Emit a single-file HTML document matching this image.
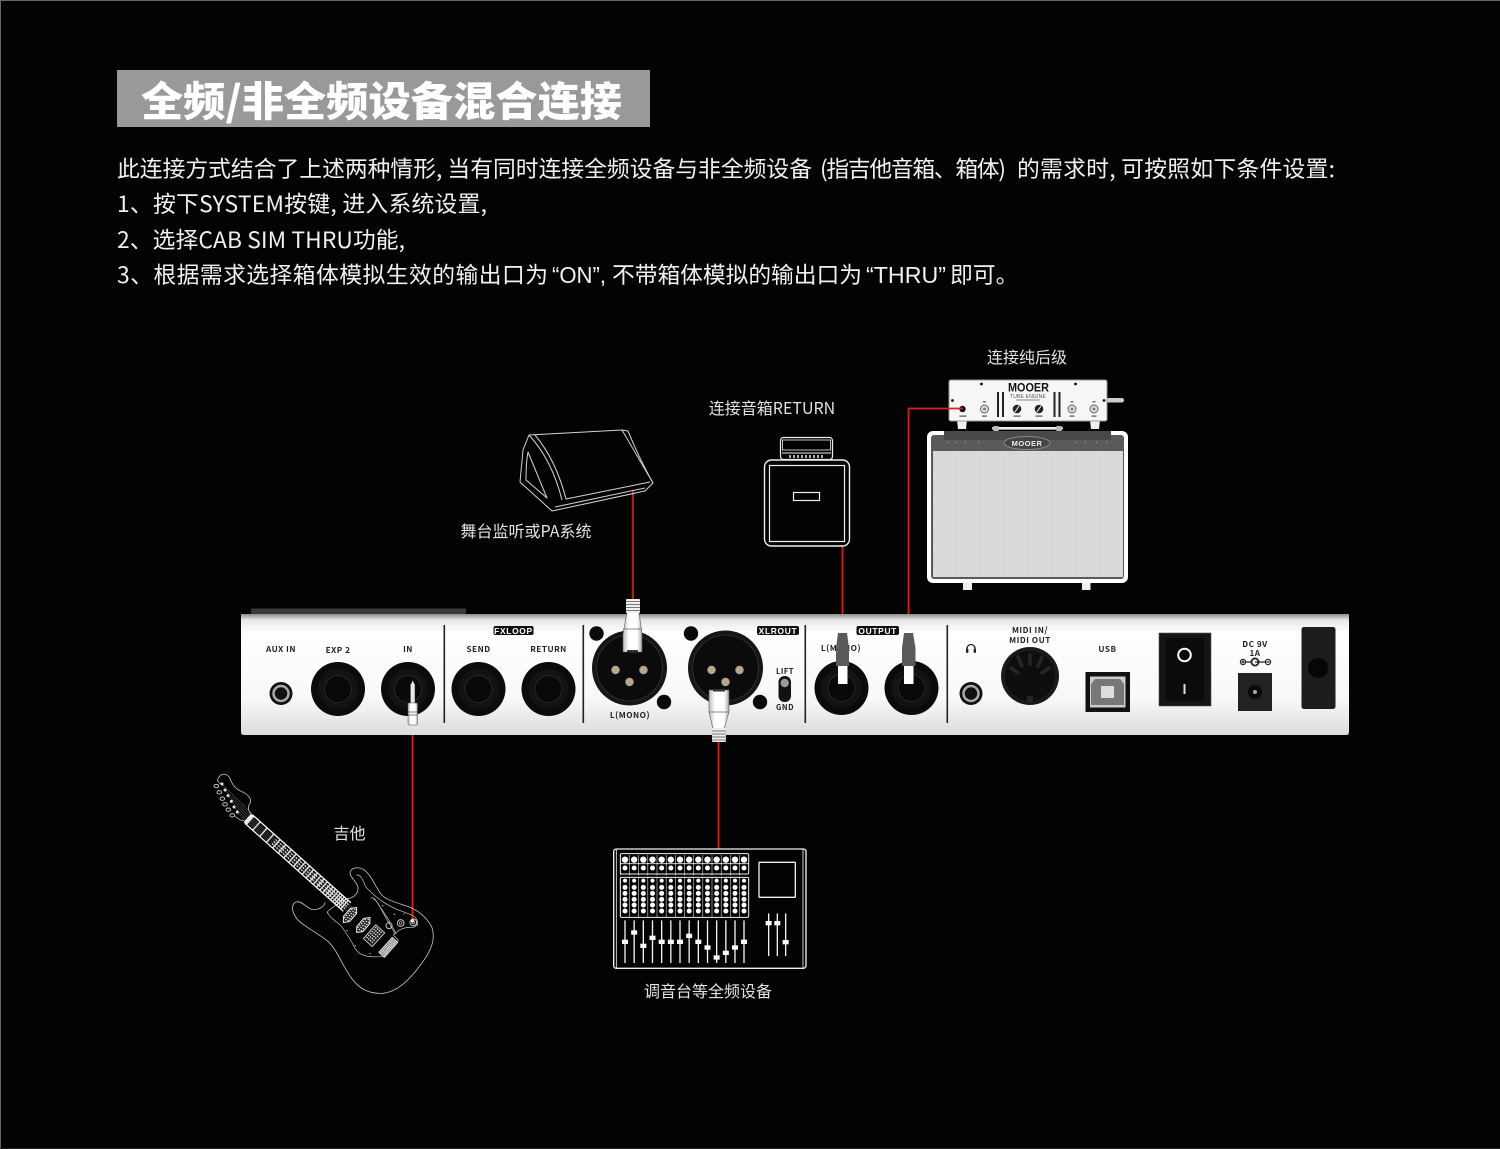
<!DOCTYPE html>
<html lang="zh">
<head>
<meta charset="utf-8">
<title>全频/非全频设备混合连接</title>
<style>
html,body{margin:0;padding:0;background:#040304;width:1500px;height:1149px;overflow:hidden}
svg{display:block}
text{font-family:"Liberation Sans","Noto Sans CJK SC",sans-serif}
.body{font-size:22.8px;fill:#f0f0f0;font-weight:400;font-family:"Noto Sans CJK SC","Liberation Sans",sans-serif}
.lat{font-family:"Liberation Sans","Noto Sans CJK SC",sans-serif}
.cap{font-size:16px;fill:#e2e2e2;text-anchor:middle;font-family:"Noto Sans CJK SC","Liberation Sans",sans-serif;font-weight:400}
.lb{font-size:8.2px;font-weight:bold;fill:#222;text-anchor:middle;letter-spacing:.5px;font-family:"Noto Sans CJK SC","Liberation Sans",sans-serif}
.tag{font-size:8.4px;font-weight:bold;fill:#fff;text-anchor:middle;letter-spacing:.7px}
.l{fill:none;stroke:#d4d4d4;stroke-width:1}
.r{stroke:#e01c1c;stroke-width:1.7;fill:none}
</style>
</head>
<body>
<svg width="1500" height="1149" viewBox="0 0 1500 1149" xmlns="http://www.w3.org/2000/svg">
<defs>
<linearGradient id="panel" x1="0" y1="0" x2="0" y2="1">
<stop offset="0" stop-color="#8c8c8c"/><stop offset=".05" stop-color="#e8e8e8"/><stop offset=".16" stop-color="#fff"/><stop offset=".7" stop-color="#f8f8f8"/><stop offset="1" stop-color="#dcdcdc"/>
</linearGradient>
<linearGradient id="plug" x1="0" y1="0" x2="1" y2="0">
<stop offset="0" stop-color="#bbb"/><stop offset=".3" stop-color="#fff"/><stop offset=".75" stop-color="#fff"/><stop offset="1" stop-color="#aaa"/>
</linearGradient>
<g id="jack">
<circle r="27" fill="#0b0b0b"/>
<circle r="20" fill="#131313"/>
<circle r="13.5" fill="#090909" stroke="#262626" stroke-width="1"/>
</g>
<g id="mini">
<circle r="11.5" fill="#111"/>
<circle r="7.5" fill="none" stroke="#aaa" stroke-width="2.5"/>
<circle r="5" fill="#111"/>
</g>
<g id="xlr">
<circle r="37.5" fill="#151515"/>
<circle r="33" fill="#0b0b0b" stroke="#2e2e2e" stroke-width="1"/>
<circle cx="-14" cy="2" r="4.2" fill="#b5a68c"/>
<circle cx="14" cy="2" r="4.2" fill="#b5a68c"/>
<circle cx="0" cy="14" r="4.2" fill="#b5a68c"/>
</g>
<g id="col">
<circle cx="0" cy="0" r="9.5" fill="#fff"/>
<circle cx="0" cy="25" r="7.5" fill="#fff"/>
<path d="M-14,-14V48" stroke="#fff" stroke-width="1.5"/>
</g>
<g id="col2">
<circle cx="0" cy="0" r="6" fill="#fff"/><circle cx="0" cy="20" r="7.5" fill="#fff"/><circle cx="0" cy="38" r="7.5" fill="#fff"/><circle cx="0" cy="56" r="7.5" fill="#fff"/><circle cx="0" cy="73" r="7.5" fill="#fff"/><circle cx="0" cy="91" r="7.5" fill="#fff"/>
<path d="M-14,-10V110" stroke="#fff" stroke-width="1.5"/>
</g>
<g id="tog">
<circle r="4" fill="#ddd" stroke="#666" stroke-width="1"/><circle r="1.4" fill="#777"/>
<rect x="-1.5" y="-8" width="3" height="1.5" fill="#777"/>
<rect x="-2.5" y="6.5" width="5" height="1.2" fill="#555"/>
</g>
<g id="knob">
<circle r="4.3" fill="#222"/><path d="M-2,3L2,-3" stroke="#fff" stroke-width="1"/>
<rect x="-3.5" y="6.5" width="7" height="1.2" fill="#555"/>
</g>
<pattern id="grille" width="3" height="3" patternUnits="userSpaceOnUse">
<rect width="3" height="3" fill="#dcdcdc"/><path d="M0,0H3M0,0V3" stroke="#c8c8c8" stroke-width=".6"/>
</pattern>
</defs>

<rect width="1500" height="1149" fill="#040304"/>
<rect x="0" y="0" width="1500" height="1" fill="#666"/>
<rect x="0" y="0" width="1" height="1149" fill="#666"/>
<rect x="0" y="1148" width="1500" height="1" fill="#222"/>

<!-- heading -->
<rect x="117" y="70" width="533" height="57" fill="#999"/>
<text x="141" y="116" font-size="41" font-weight="900" fill="#fff" textLength="481" lengthAdjust="spacingAndGlyphs" style="font-family:'Noto Sans CJK SC','Liberation Sans',sans-serif">全频/非全频设备混合连接</text>

<text class="body" x="117" y="177" textLength="695" lengthAdjust="spacing">此连接方式结合了上述两种情形, 当有同时连接全频设备与非全频设备</text>
<text class="body" x="820" y="177" textLength="186" lengthAdjust="spacing">(指吉他音箱、箱体)</text>
<text class="body" x="1017" y="177" textLength="318" lengthAdjust="spacing">的需求时, 可按照如下条件设置:</text>
<text class="body" x="117" y="212" textLength="370" lengthAdjust="spacing">1、按下SYSTEM按键, 进入系统设置,</text>
<text class="body" x="117" y="248" textLength="288" lengthAdjust="spacing">2、选择CAB SIM THRU功能,</text>
<text class="body" x="117" y="283" textLength="431" lengthAdjust="spacing">3、根据需求选择箱体模拟生效的输出口为</text>
<text class="body lat" x="552" y="283" textLength="54" lengthAdjust="spacingAndGlyphs">“ON”,</text>
<text class="body" x="612" y="283" textLength="250" lengthAdjust="spacing">不带箱体模拟的输出口为</text>
<text class="body lat" x="866" y="283" textLength="80" lengthAdjust="spacingAndGlyphs">“THRU”</text>
<text class="body" x="950" y="283">即可。</text>

<!-- captions -->
<text class="cap" x="1027" y="363">连接纯后级</text>
<text class="cap" x="772" y="414">连接音箱RETURN</text>
<text class="cap" x="526" y="537">舞台监听或PA系统</text>
<text class="cap" x="349.5" y="839">吉他</text>
<text class="cap" x="708" y="997">调音台等全频设备</text>

<!-- red cables -->
<path class="r" d="M633,490V600"/>
<path class="r" d="M842.5,546V634"/>
<path class="r" d="M718.5,742V849"/>
<path class="r" d="M412.5,725V921"/>

<!-- stage monitor -->
<g class="l" stroke-linejoin="round">
<path d="M529,435L622,430L653,483L645,491L552,511L520,482L523,450Z"/>
<path d="M529,435Q552,460 562,500"/>
<path d="M535,435Q556,460 566,499L650,482"/>
<path d="M622,430L628,431Q640,460 653,483"/>
<path d="M555,507L645,488"/>
<path d="M528,452L547,498L526,480Q526,462 528,452Z"/>
</g>

<!-- small cab with head -->
<g fill="none" stroke="#eee">
<rect x="764.5" y="460" width="85" height="86" rx="7" stroke-width="1.4"/>
<rect x="769.5" y="465.5" width="75" height="76" stroke-width="1.2"/>
<rect x="793.5" y="492.5" width="26" height="8" stroke-width="1.2"/>
<rect x="780.5" y="437.5" width="52" height="22" rx="3" stroke-width="1.2"/>
<rect x="782.5" y="440" width="48" height="10" stroke-width=".8"/>
<path d="M782,453H831" stroke-width="1"/>
<path d="M789,456.5H825" stroke-width="3" stroke-dasharray="2 2" stroke="#aaa"/>
</g>

<!-- amp head + combo -->
<rect x="927" y="431" width="201" height="152" rx="6" fill="#fff"/>
<rect x="931" y="435" width="193" height="144" rx="3" fill="#5a5a5a"/>
<rect x="944" y="431" width="167" height="9" fill="#484848"/>
<rect x="933" y="451" width="190" height="126" fill="url(#grille)"/>
<ellipse cx="1027" cy="443" rx="23" ry="6.5" fill="#444" stroke="#888" stroke-width="1"/>
<text x="1027" y="446" font-size="7.5" font-weight="bold" fill="#eee" text-anchor="middle" letter-spacing=".5">MOOER</text>
<path d="M948,442.5h1M956,442.5h1M965,442.5h1M978,442.5h1M1075,442.5h1M1085,442.5h1M1096,442.5h1M1106,442.5h1" stroke="#999" stroke-width="1.5"/>
<rect x="963" y="583" width="9" height="7" fill="#eee"/>
<rect x="1082" y="583" width="8.5" height="7" fill="#eee"/>
<rect x="992" y="427" width="71" height="2.6" rx="1.3" fill="#eee"/>
<rect x="993" y="426" width="6" height="5" rx="1.5" fill="#bbb"/>
<rect x="1056" y="426" width="6" height="5" rx="1.5" fill="#bbb"/>

<path d="M957,420H967L966,429H958Z" fill="#eee"/>
<path d="M1090,420H1100L1099,429H1091Z" fill="#eee"/>
<rect x="1106" y="398" width="18" height="4.5" rx="2.2" fill="#ccc"/>
<rect x="949" y="380" width="158" height="41" rx="2" fill="#f6f6f6" stroke="#999" stroke-width="1"/>
<g fill="#111"><circle cx="981.5" cy="384" r="1.4"/><circle cx="1075.5" cy="384" r="1.4"/><circle cx="952.5" cy="400.5" r="1.4"/><circle cx="1104" cy="400.5" r="1.4"/></g>
<text x="1008" y="391.5" font-size="11.5" font-weight="bold" fill="#111" textLength="41" lengthAdjust="spacingAndGlyphs">MOOER</text>
<text x="1028" y="398" font-size="5" fill="#555" text-anchor="middle" letter-spacing=".2">TUBE ENGINE</text>
<rect x="1016" y="399.5" width="24" height="1" fill="#888"/>
<g fill="#222"><rect x="997" y="392" width="2" height="25"/><rect x="1002" y="392" width="2" height="25"/><rect x="1053.5" y="392" width="2" height="25"/><rect x="1058.5" y="392" width="2" height="25"/></g>
<circle cx="962.5" cy="409" r="3.2" fill="#111"/>
<rect x="959.5" y="415.5" width="7" height="1.2" fill="#555"/>
<use href="#tog" x="984.5" y="409"/><use href="#tog" x="1072" y="409"/><use href="#tog" x="1094" y="409"/>
<use href="#knob" x="1017" y="409"/><use href="#knob" x="1039" y="409"/>

<!-- cable into amp input, drawn over the head -->
<path class="r" d="M963,408.500H908.500V634"/>

<!-- pedal rear panel -->
<rect x="251" y="608.5" width="215" height="6" fill="#3a3a3a"/>
<path d="M241,614H1349V732Q1349,735 1346,735H244Q241,735 241,732Z" fill="url(#panel)"/>

<g fill="#222">
<rect x="443.5" y="625" width="1.6" height="98"/>
<rect x="582.5" y="625" width="1.6" height="98"/>
<rect x="804.5" y="625" width="1.6" height="98"/>
<rect x="946.5" y="625" width="1.6" height="98"/>
</g>

<text class="lb" x="281" y="652">AUX IN</text>
<text class="lb" x="338" y="653">EXP 2</text>
<text class="lb" x="408" y="652">IN</text>
<text class="lb" x="478.5" y="652">SEND</text>
<text class="lb" x="548.5" y="652">RETURN</text>
<text class="lb" x="630" y="718">L(MONO)</text>
<text class="lb" x="785" y="674" style="font-size:7.6px">LIFT</text>
<text class="lb" x="785" y="710" style="font-size:7.6px">GND</text>
<text class="lb" x="841" y="651">L(MONO)</text>
<text class="lb" x="1030" y="633">MIDI IN/</text>
<text class="lb" x="1030" y="643">MIDI OUT</text>
<text class="lb" x="1107.5" y="652">USB</text>
<text class="lb" x="1255" y="647">DC 9V</text>
<text class="lb" x="1255" y="656">1A</text>

<rect x="493.5" y="626" width="40" height="9" rx="2" fill="#111"/><text class="tag" x="513.5" y="634">FXLOOP</text>
<rect x="757" y="626" width="42" height="9" rx="2" fill="#111"/><text class="tag" x="778" y="634">XLROUT</text>
<rect x="856.5" y="626" width="42.5" height="9" rx="2" fill="#111"/><text class="tag" x="877.7" y="634">OUTPUT</text>

<use href="#mini" x="281" y="693.5"/>
<use href="#jack" x="338" y="689"/>
<use href="#jack" x="408" y="689"/>
<use href="#jack" x="478.5" y="689"/>
<use href="#jack" x="548.5" y="689"/>
<use href="#jack" x="841.5" y="688"/>
<use href="#jack" x="911.5" y="688"/>
<use href="#mini" x="971" y="693.5"/>

<!-- XLR -->
<g fill="#0a0a0a"><circle cx="596.5" cy="633.5" r="7.2"/><circle cx="664" cy="702" r="7.2"/><circle cx="691" cy="633.5" r="7.2"/><circle cx="760" cy="702" r="7.2"/></g>
<use href="#xlr" x="629.5" y="668"/>
<use href="#xlr" x="725.5" y="668"/>

<!-- lift switch -->
<rect x="778.5" y="676" width="12.5" height="26" rx="6" fill="#111"/>
<circle cx="784.7" cy="683" r="4.2" fill="#999"/>

<!-- headphone icon -->
<path d="M967,652V648.5A4,4 0 0 1 975,648.5V652" fill="none" stroke="#222" stroke-width="1.3"/>
<rect x="966" y="648.5" width="2.4" height="4.5" rx="1" fill="#222"/><rect x="973.6" y="648.5" width="2.4" height="4.5" rx="1" fill="#222"/>

<!-- MIDI -->
<circle cx="1030" cy="676" r="29" fill="#1a1a1a"/>
<circle cx="1030" cy="676" r="25" fill="#0e0e0e"/>
<g stroke="#262626" stroke-width="3.5" stroke-linecap="round">
<path d="M1030,655V664"/><path d="M1018,657L1022,666"/><path d="M1042,657L1038,666"/><path d="M1011,668L1018,673"/><path d="M1049,668L1042,673"/>
</g>
<rect x="1027" y="696" width="6" height="6" fill="#262626"/>

<!-- USB -->
<rect x="1085.5" y="672" width="44.5" height="40" fill="#111"/>
<rect x="1090" y="676.5" width="35.5" height="31" fill="#ccc"/>
<path d="M1095,679H1120L1124,684V705H1091V684Z" fill="#777"/>
<rect x="1101" y="686" width="13" height="12" fill="#ddd"/>

<!-- rocker -->
<rect x="1159" y="633" width="52" height="73" fill="#151515" stroke="#555" stroke-width=".6"/>
<rect x="1166" y="638" width="38" height="63" fill="#0b0b0b"/>
<circle cx="1184.5" cy="655" r="6.3" fill="none" stroke="#fff" stroke-width="2"/>
<rect x="1183.5" y="684" width="2" height="10" fill="#ddd"/>

<!-- DC -->
<g fill="none" stroke="#222" stroke-width="1.2">
<circle cx="1243" cy="662" r="2.6"/><circle cx="1255" cy="662" r="3.6" stroke-width="1.8"/><circle cx="1268" cy="662" r="2.6"/>
<path d="M1246,662H1251M1255,662H1265M1241.500,662H1244.500M1243,660.500V663.500M1266.500,662H1269.500"/>
</g>
<rect x="1238" y="673" width="34" height="38" fill="#222"/>
<circle cx="1255" cy="692" r="7" fill="#0a0a0a"/>
<circle cx="1255" cy="692" r="2" fill="#aaa"/>

<!-- pad -->
<rect x="1301.5" y="627" width="34" height="82" rx="2.5" fill="#1d1d1d"/>
<circle cx="1318" cy="668" r="10" fill="#060606"/>

<!-- plugs -->
<!-- top XLR -->
<path d="M627,612L623,634V652H642V634L639,612Z" fill="url(#plug)" stroke="#555" stroke-width=".6"/>
<rect x="626" y="599" width="14" height="14" rx="1" fill="#eee"/>
<path d="M626,601.500H640M626,604.500H640M626,607.500H640M626,610.500H640" stroke="#777" stroke-width="1"/>
<path d="M623,629H642" stroke="#666" stroke-width=".8"/>
<rect x="627" y="650" width="11" height="2.5" fill="#333"/>
<!-- lower XLR -->
<path d="M709,690V712L713,729H724L729,712V690Z" fill="url(#plug)" stroke="#555" stroke-width=".6"/>
<rect x="712" y="728" width="14" height="14" rx="1" fill="#eee"/>
<path d="M712,731H726M712,734H726M712,737H726M712,740H726" stroke="#777" stroke-width="1"/>
<path d="M709,712H729" stroke="#666" stroke-width=".8"/>
<rect x="713" y="689" width="12" height="2.5" fill="#333"/>
<!-- mini jack plug -->
<rect x="410.500" y="684" width="4.400" height="19" fill="#e8e8e8" stroke="#555" stroke-width=".4"/>
<path d="M412.700,680.500L414.500,684.500H411Z" fill="#eee"/>
<rect x="408" y="703" width="9.500" height="22" rx="1" fill="url(#plug)" stroke="#555" stroke-width=".5"/>
<path d="M408,712H417.500M408,715H417.500" stroke="#555" stroke-width=".7"/>
<!-- output plugs -->
<g>
<path d="M838,633H847L849,648V666H836V648Z" fill="#5a5a5a"/>
<rect x="838" y="666" width="9.500" height="18" fill="#fff"/>
<path d="M904,633H913L915.500,648V666H902V648Z" fill="#5a5a5a"/>
<rect x="904" y="666" width="9.500" height="18" fill="#fff"/>
</g>

<!-- guitar -->
<g transform="translate(200 760) scale(.33333)" fill="none" stroke="#c8c8c8" stroke-width="2.4" stroke-linejoin="round" stroke-linecap="round">
<!-- body -->
<path d="M375,428 C372,440 355,452 335,448 C318,442 308,425 292,425 C277,428 272,445 285,468 C300,495 345,512 385,545 C415,575 425,615 455,655 C480,690 515,702 550,700 C590,695 625,665 665,610 C695,570 708,535 695,500 C675,465 650,450 625,440 C590,428 560,420 545,405 C525,380 515,345 490,328 C472,318 452,325 450,338 C449,350 465,360 473,378 C478,398 465,412 442,417"/>
<!-- pickguard -->
<path d="M470,345 C485,345 488,360 497,380 C510,395 540,425 590,448 L635,465 C655,475 660,495 640,502 C610,500 595,510 580,525 L595,540 L560,585 L540,590 C510,592 480,590 465,565 C455,545 440,520 425,500 C405,480 385,470 382,455 L420,425 L445,415" stroke-width="2"/>
<path d="M512,415 C522,405 532,430 548,452 C560,470 578,495 588,522" stroke-width="2"/>
<path d="M520,418 C530,418 545,450 560,478 C572,498 580,510 583,520" stroke-width="2"/>
<!-- controls -->
<circle cx="567" cy="497" r="9" stroke-width="3"/><circle cx="602" cy="489" r="10" stroke-width="3"/><circle cx="602" cy="489" r="4" stroke-width="2"/><circle cx="640" cy="487" r="10" stroke-width="3"/><circle cx="640" cy="487" r="4" stroke-width="2"/>
<!-- neck -->
<g transform="translate(147 178) rotate(41.8)">
<path d="M0,-17H393M0,17H393" stroke="#f4f4f4" stroke-width="4"/>
<path d="M0,-17V17" stroke="#f4f4f4" stroke-width="13" stroke-linecap="butt"/>
<path d="M30,-17V17M58,-17V17M85,-17V17M110,-17V17M133,-17V17M155,-17V17M175,-17V17M194,-17V17M212,-17V17M229,-17V17M245,-17V17M260,-17V17M274,-17V17M287,-17V17M300,-17V17M312,-17V17M323,-17V17M333,-17V17M343,-17V17M352,-17V17M360,-17V17M368,-17V17M376,-17V17M384,-17V17" stroke="#f4f4f4" stroke-width="4" stroke-linecap="butt"/>
<path d="M100,-8H393M100,0H393M100,8H393" stroke="#f4f4f4" stroke-width="4" stroke-dasharray="5 4" stroke-linecap="butt"/>
<path d="M0,-10H420M0,-6H420M0,-2H420M0,2H420M0,6H420M0,10H420" stroke="#999" stroke-width="1"/>
</g>
<!-- pickups -->
<g transform="translate(450 465) rotate(41.8)">
<path d="M0,-30L12,-16V16L0,30L-12,16V-16Z" fill="#222" stroke="#eee" stroke-width="3"/>
<path d="M-7,-18V18M0,-24V24M7,-18V18" stroke="#eee" stroke-width="4" stroke-dasharray="4 4" stroke-linecap="butt"/>
</g>
<g transform="translate(490 495) rotate(41.800)">
<path d="M0,-30L12,-16V16L0,30L-12,16V-16Z" fill="#222" stroke="#eee" stroke-width="3"/>
<path d="M-7,-18V18M0,-24V24M7,-18V18" stroke="#eee" stroke-width="4" stroke-dasharray="4 4" stroke-linecap="butt"/>
</g>
<g transform="translate(522 527) rotate(41.800)">
<rect x="-18" y="-28" width="36" height="56" fill="#222" stroke="#ddd" stroke-width="2.500"/>
<path d="M-12,-24V24M-5,-24V24M2,-24V24M9,-24V24" stroke="#eee" stroke-width="4" stroke-dasharray="4 4" stroke-linecap="butt"/>
</g>
<!-- bridge -->
<g transform="translate(565 562) rotate(41.800)">
<rect x="-11" y="-30" width="22" height="60" fill="#888" stroke="#e4e4e4" stroke-width="3"/>
<path d="M-5,-26V26M1,-26V26M6,-26V26" stroke="#f4f4f4" stroke-width="3.500" stroke-dasharray="3 2" stroke-linecap="butt"/>
</g>
<g fill="#ccc" stroke="none"><circle cx="612" cy="462" r="2"/><circle cx="583" cy="463" r="2"/><circle cx="548" cy="437" r="2"/><circle cx="441" cy="512" r="2"/><circle cx="466" cy="557" r="2"/><circle cx="510" cy="581" r="2"/><circle cx="383" cy="459" r="2"/><circle cx="652" cy="494" r="2"/></g>
<!-- headstock -->
<path d="M52,62 C58,40 78,35 90,55 C98,78 108,88 132,98 C150,108 158,122 147,135 C142,148 148,155 155,165" stroke-width="2.400"/>
<path d="M52,62L62,72M132,182C120,182 112,175 107,170" stroke-width="2.200"/>
<path d="M66,72L155,160M75,90L150,164M84,107L146,168M94,124L142,172M102,141L138,176M112,156L134,180" stroke="#aaa" stroke-width="1.200"/>
<g stroke-width="3">
<ellipse cx="49" cy="78" rx="7" ry="5"/><ellipse cx="58" cy="97" rx="7" ry="5"/><ellipse cx="67" cy="116" rx="7" ry="5"/><ellipse cx="75" cy="133" rx="7" ry="5"/><ellipse cx="85" cy="149" rx="7" ry="5"/><ellipse cx="97" cy="166" rx="7" ry="5"/>
</g>
<g fill="#e4e4e4" stroke="none"><circle cx="66" cy="72" r="4.500"/><circle cx="75" cy="90" r="4.500"/><circle cx="84" cy="107" r="4.500"/><circle cx="94" cy="124" r="4.500"/><circle cx="102" cy="141" r="4.500"/><circle cx="112" cy="156" r="4.500"/></g>
</g>
<circle cx="412.500" cy="921" r="1.600" fill="#eee"/>

<!-- mixer -->
<g transform="translate(600 840) scale(.33333)">
<rect x="41" y="27" width="577" height="358" rx="8" fill="none" stroke="#f0f0f0" stroke-width="4"/>
<path d="M49,28V384M609,28V384" stroke="#eee" stroke-width="2.500"/>
<rect x="61" y="41" width="385" height="61" rx="4" fill="none" stroke="#eee" stroke-width="3"/>
<path d="M61,71H446" stroke="#eee" stroke-width="2.500"/>
<rect x="61" y="112" width="385" height="120" rx="4" fill="none" stroke="#eee" stroke-width="3"/>
<g>
<use href="#col" x="75" y="59"/><use href="#col" x="102.500" y="59"/><use href="#col" x="130" y="59"/><use href="#col" x="157.500" y="59"/><use href="#col" x="185" y="59"/><use href="#col" x="212.500" y="59"/><use href="#col" x="240" y="59"/><use href="#col" x="267.500" y="59"/><use href="#col" x="295" y="59"/><use href="#col" x="322.500" y="59"/><use href="#col" x="350" y="59"/><use href="#col" x="377.500" y="59"/><use href="#col" x="405" y="59"/><use href="#col" x="432" y="59"/>
<use href="#col2" x="75" y="122"/><use href="#col2" x="102.500" y="122"/><use href="#col2" x="130" y="122"/><use href="#col2" x="157.500" y="122"/><use href="#col2" x="185" y="122"/><use href="#col2" x="212.500" y="122"/><use href="#col2" x="240" y="122"/><use href="#col2" x="267.500" y="122"/><use href="#col2" x="295" y="122"/><use href="#col2" x="322.500" y="122"/><use href="#col2" x="350" y="122"/><use href="#col2" x="377.500" y="122"/><use href="#col2" x="405" y="122"/><use href="#col2" x="432" y="122"/>
</g>
<path d="M75,241V369M102.500,241V369M130,241V369M157.500,241V369M185,241V369M212.500,241V369M240,241V369M267.500,241V369M295,241V369M322.500,241V369M350,241V369M377.500,241V369M405,241V369M432,241V369" stroke="#f2f2f2" stroke-width="4"/>
<g fill="#fff">
<rect x="66" y="299" width="18" height="13"/><rect x="93.500" y="271" width="18" height="13"/><rect x="121" y="311" width="18" height="13"/><rect x="148.500" y="287" width="18" height="13"/><rect x="176" y="299" width="18" height="13"/><rect x="203.500" y="299" width="18" height="13"/><rect x="231" y="299" width="18" height="13"/><rect x="258.500" y="281" width="18" height="13"/><rect x="286" y="299" width="18" height="13"/><rect x="313.500" y="316" width="18" height="13"/><rect x="341" y="346" width="18" height="13"/><rect x="368.500" y="332" width="18" height="13"/><rect x="396" y="316" width="18" height="13"/><rect x="423" y="299" width="18" height="13"/>
</g>
<rect x="477" y="67" width="109" height="105" rx="2" fill="none" stroke="#f0f0f0" stroke-width="4"/>
<path d="M506,220V348M532,220V348M557,220V348" stroke="#f2f2f2" stroke-width="4"/>
<g fill="#fff"><rect x="497" y="243" width="18" height="13"/><rect x="523" y="243" width="18" height="13"/><rect x="548" y="300" width="18" height="13"/></g>
</g>
</svg>
</body>
</html>
